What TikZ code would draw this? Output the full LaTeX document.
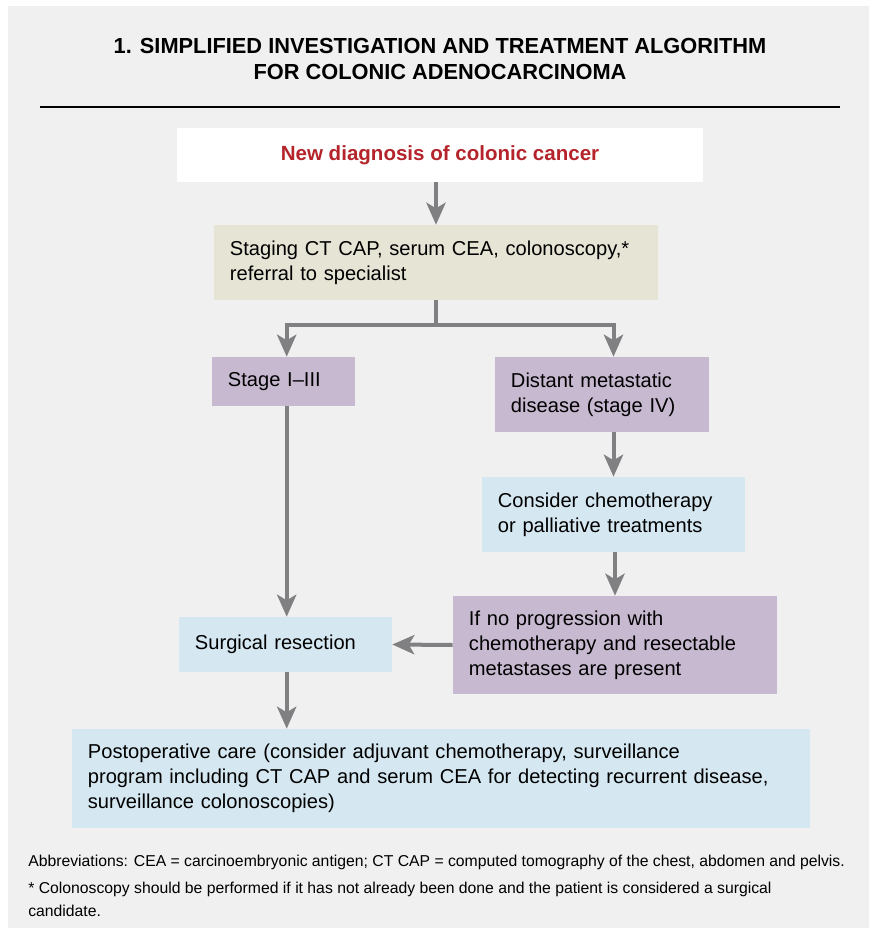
\documentclass[tikz,border=0pt]{standalone}
\usepackage{fontspec}
\setmainfont{Liberation Sans}
\usetikzlibrary{arrows.meta}
\definecolor{panelgray}{HTML}{F0F0F0}
\definecolor{stagebeige}{HTML}{E6E4D5}
\definecolor{stagepurple}{HTML}{C7B9D0}
\definecolor{stageblue}{HTML}{D5E7F0}
\definecolor{titlered}{HTML}{B5232B}
\definecolor{flowgray}{HTML}{808083}

\begin{document}
\begin{tikzpicture}[x=0.025cm,y=-0.025cm,
	box/.style={rectangle,inner xsep=0.4cm,inner ysep=0pt,align=left,
		font=\fontsize{14.3}{17.8}\selectfont},
	flow/.style={draw=flowgray,line width=0.1cm},
	flowarr/.style={flow,-{Stealth[length=0.55cm,width=0.48cm,inset=0.14cm]}}]
				%%%%% START %%%%%
				\def\W{869}
				\def\H{928}
				\def\ysplit{325}
				
				\useasboundingbox (0,0) rectangle (\W,\H);
				\fill[panelgray] (8,6) rectangle (\W,\H);
				
				% title
				\node (title) at (440,59) [align=center,font=\bfseries\fontsize{15.5}{17.8}\selectfont]
					{1. SIMPLIFIED INVESTIGATION AND TREATMENT ALGORITHM\\FOR COLONIC ADENOCARCINOMA};
				\draw[line width=0.04cm] (40,107) -- (840,107);
				
				% boxes
				\node[box,fill=white,minimum width=13.15cm,minimum height=1.325cm,align=center,
					text=titlered,font=\bfseries\fontsize{14.6}{17.8}\selectfont] (new) at (440,155)
					{New diagnosis of colonic cancer};
				\node[box,fill=stagebeige,minimum width=11.1cm,minimum height=1.875cm,text width=10.3cm] (staging) at (436,262.5)
					{Staging CT CAP, serum CEA, colonoscopy,*\\referral to specialist};
				\node[box,fill=stagepurple,minimum width=3.575cm,minimum height=1.225cm,text width=2.775cm] (stage13) at (283.5,381.5)
					{Stage I--III};
				\node[box,fill=stagepurple,minimum width=5.35cm,minimum height=1.875cm,text width=4.55cm] (distant) at (602,394.5)
					{Distant metastatic\\disease (stage IV)};
				\node[box,fill=stageblue,minimum width=6.575cm,minimum height=1.875cm,text width=5.775cm] (chemo) at (613.5,514.5)
					{Consider chemotherapy\\or palliative treatments};
				\node[box,fill=stagepurple,minimum width=8.1cm,minimum height=2.45cm,text width=7.3cm] (noprog) at (615,645)
					{If no progression with\\chemotherapy and resectable\\metastases are present};
				\node[box,fill=stageblue,minimum width=5.325cm,minimum height=1.375cm,text width=4.525cm] (surgery) at (285.5,644.5)
					{Surgical resection};
				\node[box,fill=stageblue,minimum width=18.45cm,minimum height=2.475cm,text width=17.65cm] (postop) at (441,778.5)
					{Postoperative care (consider adjuvant chemotherapy, surveillance\\program including CT CAP and serum CEA for detecting recurrent disease,\\surveillance colonoscopies)};
				
				% connectors
				\draw[flowarr] (new.south -| staging.south) -- (staging.north);
				\draw[flow] (staging.south) -- (staging.south |- 0,\ysplit) coordinate (split);
				\draw[flowarr] (split) -| ([xshift=0.08cm]stage13.north);
				\draw[flowarr] (split) -| (chemo.north |- distant.north);
				\draw[flowarr] (chemo.north |- distant.south) -- (chemo.north);
				\draw[flowarr] (chemo.south -| noprog.north) -- (noprog.north);
				\draw[flowarr] ([xshift=0.08cm]stage13.south) coordinate (leftcol) -- (leftcol |- surgery.north);
				\draw[flowarr] (noprog.west) -- (surgery.east);
				\draw[flowarr] (leftcol |- surgery.south) -- (leftcol |- postop.north);
				
				% notes
				\node (abbrev) at (28,862) [anchor=west,inner xsep=0pt,font=\fontsize{11.2}{13}\selectfont]
					{Abbreviations: CEA = carcinoembryonic antigen; CT CAP = computed tomography of the chest, abdomen and pelvis.};
				\node (footnote) at (28,899.5) [anchor=west,inner xsep=0pt,align=left,font=\fontsize{11.2}{16.8}\selectfont]
					{* Colonoscopy should be performed if it has not already been done and the patient is considered a surgical\\candidate.};
				%%%%% END %%%%%
\end{tikzpicture}
\end{document}
